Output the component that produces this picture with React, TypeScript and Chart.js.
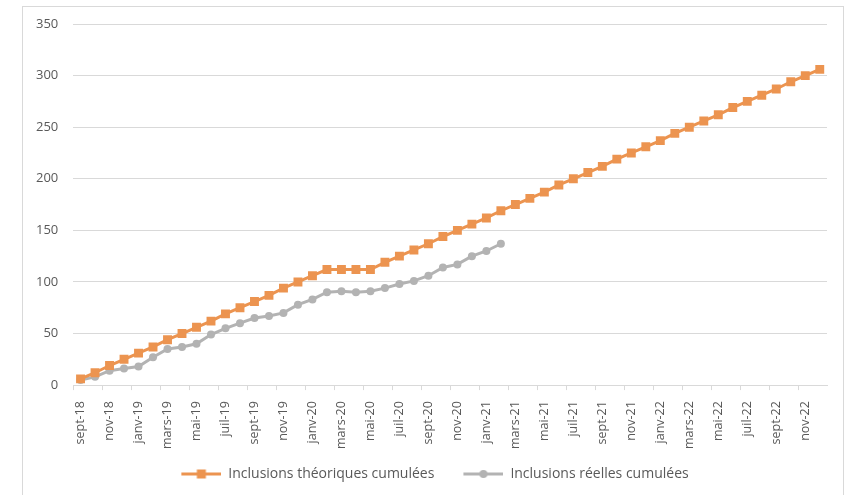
import React, { useEffect, useRef } from "react";
import { Chart, registerables } from "chart.js";

Chart.register(...registerables);

const months = [
  "sept-18", "oct.-18", "nov-18", "déc.-18",
  "janv-19", "févr.-19", "mars-19", "avr.-19", "mai-19", "juin-19", "juil-19", "août-19", "sept-19", "oct.-19", "nov-19", "déc.-19",
  "janv-20", "févr.-20", "mars-20", "avr.-20", "mai-20", "juin-20", "juil-20", "août-20", "sept-20", "oct.-20", "nov-20", "déc.-20",
  "janv-21", "févr.-21", "mars-21", "avr.-21", "mai-21", "juin-21", "juil-21", "août-21", "sept-21", "oct.-21", "nov-21", "déc.-21",
  "janv-22", "févr.-22", "mars-22", "avr.-22", "mai-22", "juin-22", "juil-22", "août-22", "sept-22", "oct.-22", "nov-22", "déc.-22",
];

const theoretical = [
  6, 12, 19, 25, 31, 37, 44, 50, 56, 62, 69, 75, 81, 87, 94, 100,
  106, 112, 112, 112, 112, 119, 125, 131, 137, 144, 150, 156,
  162, 169, 175, 181, 187, 194, 200, 206, 212, 219, 225, 231,
  237, 244, 250, 256, 262, 269, 275, 281, 287, 294, 300, 306,
];

const actual = [
  5, 8, 14, 16, 18, 27, 35, 37, 40, 49, 55, 60, 65, 67, 70, 78,
  83, 90, 91, 90, 91, 94, 98, 101, 106, 114, 117, 125, 130, 137,
];

const yTicks = [0, 50, 100, 150, 200, 250, 300, 350];

const ORANGE = "#EC9450";
const GRAY = "#B3B3B3";
const TEXT = "#595959";
const FONT = "'Open Sans', 'Noto Sans', sans-serif";

const ICON_W = 62;

function legendIcon(color: string, kind: "rect" | "circle"): HTMLCanvasElement {
  const c = document.createElement("canvas");
  c.width = ICON_W;
  c.height = 10;
  const g = c.getContext("2d")!;
  const x0 = ICON_W - 40;
  g.strokeStyle = color;
  g.lineWidth = 3;
  g.beginPath();
  g.moveTo(x0, 5);
  g.lineTo(x0 + 40, 5);
  g.stroke();
  g.fillStyle = color;
  if (kind === "rect") {
    g.fillRect(x0 + 15.5, 0.5, 9, 9);
  } else {
    g.beginPath();
    g.arc(x0 + 20, 5, 4, 0, Math.PI * 2);
    g.fill();
  }
  return c;
}

export default function App() {
  const ref = useRef<HTMLCanvasElement | null>(null);

  useEffect(() => {
    if (!ref.current) return;
    const icons = [legendIcon(ORANGE, "rect"), legendIcon(GRAY, "circle")];
    const chart = new Chart(ref.current, {
      type: "line",
      data: {
        labels: months,
        datasets: [
          {
            label: "Inclusions théoriques cumulées",
            data: theoretical,
            borderColor: ORANGE,
            backgroundColor: ORANGE,
            borderWidth: 3,
            pointStyle: "rect",
            pointRadius: 6.3,
            pointBorderWidth: 0,
            tension: 0,
          },
          {
            label: "Inclusions réelles cumulées",
            data: actual,
            borderColor: GRAY,
            backgroundColor: GRAY,
            borderWidth: 3,
            pointStyle: "circle",
            pointRadius: 4,
            pointBorderWidth: 0,
            tension: 0,
          },
        ],
      },
      options: {
        animation: false,
        responsive: false,
        maintainAspectRatio: false,
        layout: { padding: { left: 21, right: 22, top: 24, bottom: 4 } },
        scales: {
          x: {
            offset: true,
            grid: {
              offset: true,
              drawOnChartArea: false,
              drawTicks: true,
              tickLength: 5,
              tickColor: (ctx: any) => (ctx.index % 2 === 0 ? "#D9D9D9" : "rgba(0,0,0,0)"),
              color: "#D9D9D9",
            },
            border: { color: "#D9D9D9", width: 1 },
            ticks: {
              autoSkip: false,
              maxRotation: 90,
              minRotation: 90,
              color: TEXT,
              font: { family: FONT, size: 12.5 },
              padding: 11,
              callback: (_v: any, i: number) => (i % 2 === 0 ? months[i] : ""),
            },
          },
          y: {
            min: 0,
            max: 350,
            afterBuildTicks: (axis: any) => {
              axis.ticks = yTicks.map((v) => ({ value: v }));
            },
            grid: { color: "#D9D9D9", drawTicks: false, lineWidth: 1 },
            border: { display: false },
            ticks: {
              color: TEXT,
              font: { family: FONT, size: 13 },
              padding: 15,
            },
          },
        },
        plugins: {
          legend: {
            position: "bottom",
            labels: {
              usePointStyle: true,
              pointStyleWidth: ICON_W,
              boxHeight: 10,
              color: TEXT,
              font: { family: FONT, size: 14 },
              padding: 7,
              generateLabels: (ch: any) =>
                ch.data.datasets.map((ds: any, i: number) => ({
                  text: ds.label,
                  fillStyle: ds.backgroundColor,
                  strokeStyle: ds.borderColor,
                  lineWidth: 0,
                  pointStyle: icons[i],
                  hidden: false,
                  datasetIndex: i,
                  fontColor: TEXT,
                })),
            },
          },
          tooltip: { enabled: false },
        },
      },
    });
    return () => chart.destroy();
  }, []);

  return (
    <div style={{ position: "fixed", left: 0, top: 0, width: 849, height: 495, background: "#fff" }}>
      <canvas ref={ref} width={849} height={495} style={{ position: "absolute", left: 0, top: 0, width: 849, height: 495 }} />
      <div
        style={{
          position: "absolute",
          left: 22,
          top: 6,
          width: 820,
          height: 500,
          borderLeft: "1px solid #D9D9D9",
          borderTop: "1px solid #D9D9D9",
          borderRight: "1px solid #D9D9D9",
          pointerEvents: "none",
        }}
      />
    </div>
  );
}
